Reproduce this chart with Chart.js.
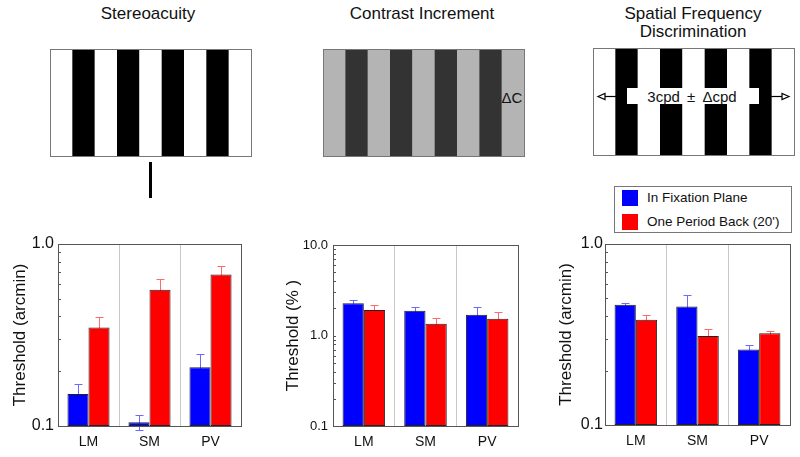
<!DOCTYPE html>
<html>
<head>
<meta charset="utf-8">
<script src="https://cdn.jsdelivr.net/npm/chart.js@4.4.1/dist/chart.umd.min.js"></script>
<style>
  body { margin: 0; background: #fff; font-family: "Liberation Sans", Arial, Helvetica, sans-serif; color: #111; }
  #wrap { position: relative; width: 800px; height: 457px; overflow: hidden; }
  .title { position: absolute; font-size: 17px; line-height: 18px; text-align: center; white-space: nowrap; transform: translateX(-50%); }
  .panel { position: absolute; top: 230px; }
  #legend { position: absolute; left: 614px; top: 186px; width: 176px; height: 45px; border: 1px solid #777; font-size: 13.5px; }
  #legend .row { position: absolute; left: 7px; height: 16px; line-height: 16px; white-space: nowrap; }
  #legend .sw { display: inline-block; width: 16px; height: 16px; vertical-align: top; margin-right: 9px; }
  .lbl { position: absolute; white-space: nowrap; transform: translate(-50%, -50%); }
</style>
</head>
<body>
<div id="wrap">
  <svg id="stim" width="800" height="457" style="position:absolute;left:0;top:0"></svg>

  <div class="title" style="left:148px;top:5px">Stereoacuity</div>
  <div class="title" style="left:422px;top:5px">Contrast Increment</div>
  <div class="title" style="left:693px;top:5px">Spatial Frequency<br>Discrimination</div>

  <div class="lbl" style="left:512px;top:97px;font-size:15px">ΔC</div>
  <div class="lbl" style="left:692px;top:96px;font-size:15px;word-spacing:3px">3cpd ± Δcpd</div>

  <div id="legend">
    <div class="row" style="top:3px"><span class="sw" style="background:#0000ff"></span><span id="leg0"></span></div>
    <div class="row" style="top:27px"><span class="sw" style="background:#ff0000"></span><span id="leg1"></span></div>
  </div>

  <canvas id="c1" class="panel" style="left:0px" width="260" height="227"></canvas>
  <canvas id="c2" class="panel" style="left:260px" width="270" height="227"></canvas>
  <canvas id="c3" class="panel" style="left:530px" width="270" height="227"></canvas>
</div>

<script>
// --- data ---
const categories = ['LM', 'SM', 'PV'];
const seriesNames = ['In Fixation Plane', "One Period Back (20')"];

// Stereoacuity, arcmin
const stereoFix = [0.150, 0.105, 0.210];
const stereoFixErr = [0.020, 0.010, 0.040];
const stereoBack = [0.348, 0.560, 0.680];
const stereoBackErr = [0.050, 0.080, 0.077];

// Contrast increment, %
const contrastFix = [2.27, 1.88, 1.70];
const contrastFixErr = [0.18, 0.20, 0.35];
const contrastBack = [1.91, 1.35, 1.53];
const contrastBackErr = [0.24, 0.20, 0.27];

// Spatial frequency discrimination, arcmin
const sfFix = [0.462, 0.452, 0.261];
const sfFixErr = [0.010, 0.068, 0.017];
const sfBack = [0.382, 0.310, 0.321];
const sfBackErr = [0.023, 0.030, 0.008];

// tick positions (log axes) and which ones carry a label
const ticksOneDecade = [0.1, 0.2, 0.3, 0.4, 0.5, 0.6, 0.7, 0.8, 0.9, 1];
const ticksTwoDecades = [0.1, 0.2, 0.3, 0.4, 0.5, 0.6, 0.7, 0.8, 0.9, 1, 2, 3, 4, 5, 6, 7, 8, 9, 10];
const labelledTicks = [0.1, 1, 10];

const colors = ['#0000ff', '#ff0000'];
const errColors = ['#6a6aff', '#ff6a6a'];

document.getElementById('leg0').textContent = seriesNames[0];
document.getElementById('leg1').textContent = seriesNames[1];

// --- stimulus drawings (decoration, not data) ---
const svg = document.getElementById('stim');
function el(tag, attrs) {
  const e = document.createElementNS('http://www.w3.org/2000/svg', tag);
  for (const k in attrs) e.setAttribute(k, attrs[k]);
  svg.appendChild(e);
  return e;
}
function stripes(x, y, w, h, n, c1, c2) {
  const sw = w / n;
  for (let i = 0; i < n; i++) {
    el('rect', { x: x + i * sw, y: y, width: sw + 0.3, height: h, fill: i % 2 ? c2 : c1 });
  }
  el('rect', { x: x + 0.5, y: y + 0.5, width: w, height: h, fill: 'none', stroke: '#777', 'stroke-width': 1 });
}
stripes(50, 49, 201, 107, 9, '#ffffff', '#000000');
el('rect', { x: 149, y: 162, width: 3, height: 36, fill: '#000' });

stripes(323, 49, 201, 107, 9, '#b4b4b4', '#333333');

stripes(593, 48, 201, 107, 9, '#ffffff', '#000000');
el('rect', { x: 627, y: 88, width: 132, height: 16, fill: '#fff' });
el('line', { x1: 604, y1: 96.5, x2: 616, y2: 96.5, stroke: '#000', 'stroke-width': 1.2 });
el('polygon', { points: '598,96.5 605,93.5 605,99.5', fill: '#fff', stroke: '#000', 'stroke-width': 1.2 });
el('line', { x1: 771, y1: 96.5, x2: 782, y2: 96.5, stroke: '#000', 'stroke-width': 1.2 });
el('polygon', { points: '789,96.5 782,93.5 782,99.5', fill: '#fff', stroke: '#000', 'stroke-width': 1.2 });

// --- plugins ---
const errorBars = {
  id: 'errorBars',
  beforeDatasetsDraw(chart) {
    const ctx = chart.ctx;
    const y = chart.scales.y;
    chart.data.datasets.forEach((ds, i) => {
      const meta = chart.getDatasetMeta(i);
      ctx.save();
      ctx.strokeStyle = ds.errorColor;
      ctx.lineWidth = 1;
      ctx.beginPath();
      meta.data.forEach((bar, j) => {
        const v = ds.data[j], e = ds.errors[j];
        const top = Math.round(y.getPixelForValue(v + e)) + 0.5;
        const bot = Math.round(y.getPixelForValue(v - e)) + 0.5;
        const x = Math.round(bar.x) + 0.5;
        ctx.moveTo(x, top); ctx.lineTo(x, bot);
        ctx.moveTo(x - 4, top); ctx.lineTo(x + 4, top);
        ctx.moveTo(x - 4, bot); ctx.lineTo(x + 4, bot);
      });
      ctx.stroke();
      ctx.restore();
    });
  }
};

const frame = {
  id: 'frame',
  afterDatasetsDraw(chart) {
    const { ctx, chartArea: a } = chart;
    const y = chart.scales.y;
    ctx.save();
    ctx.strokeStyle = '#555';
    ctx.lineWidth = 1;
    ctx.strokeRect(Math.round(a.left) + 0.5, Math.round(a.top) + 0.5, Math.round(a.right - a.left), Math.round(a.bottom - a.top));
    ctx.beginPath();
    y.ticks.forEach(t => {
      const py = Math.round(y.getPixelForValue(t.value)) + 0.5;
      ctx.moveTo(a.left, py);
      ctx.lineTo(a.left + 3, py);
    });
    ctx.stroke();
    ctx.restore();
  }
};

function makePanel(id, fix, fixErr, back, backErr, o) {
  return new Chart(document.getElementById(id), {
    type: 'bar',
    data: {
      labels: categories,
      datasets: [
        { label: seriesNames[0], data: fix, errors: fixErr, errorColor: errColors[0],
          backgroundColor: colors[0], borderColor: '#222', borderWidth: 1, borderSkipped: false,
          barPercentage: 1, categoryPercentage: 0.69 },
        { label: seriesNames[1], data: back, errors: backErr, errorColor: errColors[1],
          backgroundColor: colors[1], borderColor: '#222', borderWidth: 1, borderSkipped: false,
          barPercentage: 1, categoryPercentage: 0.69 }
      ]
    },
    options: {
      responsive: false,
      animation: false,
      layout: { padding: { top: o.top, right: o.right, left: 0, bottom: 0 } },
      plugins: { legend: { display: false }, tooltip: { enabled: false } },
      scales: {
        x: {
          grid: { color: '#c8c8c8', lineWidth: 1, drawTicks: false, offset: true },
          border: { display: false },
          ticks: { color: '#111', font: { family: 'Liberation Sans', size: 14 }, padding: 8 },
          afterFit: s => { s.height = o.xH; }
        },
        y: {
          type: 'logarithmic',
          min: 0.1,
          max: o.max,
          afterBuildTicks: s => { s.ticks = o.ticks.map(v => ({ value: v })); },
          grid: { display: false, drawTicks: false },
          border: { display: false },
          ticks: {
            autoSkip: false,
            color: '#111',
            font: { family: 'Liberation Sans', size: o.tickSize },
            padding: o.tickPad,
            callback: v => labelledTicks.includes(v) ? v.toFixed(1) : ''
          },
          title: {
            display: true,
            text: o.title,
            color: '#111',
            font: { family: 'Liberation Sans', size: 17 },
            padding: { top: o.titlePad, bottom: 0 }
          },
          afterFit: s => { s.width = o.yW; }
        }
      }
    },
    plugins: [errorBars, frame]
  });
}

makePanel('c1', stereoFix, stereoFixErr, stereoBack, stereoBackErr,
  { top: 14, right: 19, xH: 31, yW: 58, max: 1, ticks: ticksOneDecade, tickSize: 16, tickPad: 4, title: 'Threshold (arcmin)', titlePad: 10 });
makePanel('c2', contrastFix, contrastFixErr, contrastBack, contrastBackErr,
  { top: 15, right: 12, xH: 31, yW: 73, max: 10, ticks: ticksTwoDecades, tickSize: 13, tickPad: 5, title: 'Threshold (% )', titlePad: 23 });
makePanel('c3', sfFix, sfFixErr, sfBack, sfBackErr,
  { top: 14, right: 10, xH: 32, yW: 75, max: 1, ticks: ticksOneDecade, tickSize: 16, tickPad: 2, title: 'Threshold (arcmin)', titlePad: 26 });
</script>
</body>
</html>
